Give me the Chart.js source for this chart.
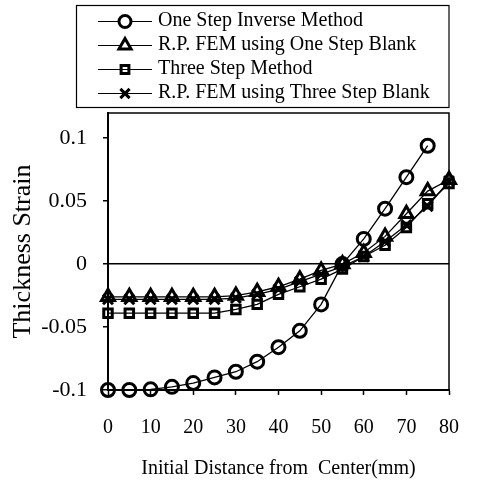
<!DOCTYPE html>
<html>
<head>
<meta charset="utf-8">
<script src="https://cdn.jsdelivr.net/npm/chart.js@4"></script>
<style>
  html, body { margin: 0; padding: 0; background: #fff; }
  #wrap { width: 480px; height: 481px; }
</style>
</head>
<body>
<div id="wrap"><canvas id="strainChart"></canvas></div>
<script>
// values
const distance = [0, 5, 10, 15, 20, 25, 30, 35, 40, 45, 50, 55, 60, 65, 70, 75, 80];
const oneStepInverse = [-0.1, -0.1, -0.0995, -0.0975, -0.0945, -0.09, -0.0855, -0.0775, -0.066, -0.053, -0.032, 0.0, 0.02, 0.044, 0.069, 0.094];
const rpFemOneStep = [-0.026, -0.026, -0.026, -0.026, -0.026, -0.026, -0.025, -0.022, -0.018, -0.012, -0.005, 0.0, 0.009, 0.022, 0.04, 0.058, 0.067];
const threeStep = [-0.039, -0.039, -0.039, -0.039, -0.039, -0.039, -0.036, -0.032, -0.024, -0.018, -0.012, -0.004, 0.006, 0.015, 0.029, 0.048, 0.064];
const rpFemThreeStep = [-0.028, -0.028, -0.028, -0.028, -0.028, -0.028, -0.027, -0.024, -0.02, -0.014, -0.008, -0.002, 0.006, 0.018, 0.031, 0.046, 0.066];

const seriesNames = [
  "One Step Inverse Method",
  "R.P. FEM using One Step Blank",
  "Three Step Method",
  "R.P. FEM using Three Step Blank"
];
const xTickValues = [0, 10, 20, 30, 40, 50, 60, 70, 80];
const yTickValues = [-0.1, -0.05, 0, 0.05, 0.1];

const serif = "'Liberation Serif', 'Times New Roman', serif";
const styles = ["circle", "triangle", "rect", "crossRot"];
const radii = [6.5, 7.5, 6, 7];

function toPoints(ys) {
  return ys.map((y, i) => ({ x: distance[i], y: y }));
}

const allSeries = [oneStepInverse, rpFemOneStep, threeStep, rpFemThreeStep];

const frames = {
  id: "frames",
  beforeDatasetsDraw(chart) {
    const a = chart.chartArea;
    const ctx = chart.ctx;
    ctx.save();
    ctx.strokeStyle = "#000";
    ctx.lineWidth = 1.5;
    ctx.strokeRect(a.left, a.top, a.right - a.left, a.bottom - a.top);
    ctx.restore();
  },
  afterDraw(chart) {
    const lg = chart.legend;
    if (!lg) return;
    const ctx = chart.ctx;
    ctx.save();
    ctx.strokeStyle = "#000";
    ctx.lineWidth = 1.2;
    ctx.strokeRect(76.5, lg.top - 1.5, chart.chartArea.right - 76.5, 102);
    // line + marker sample in front of each legend text
    lg.legendHitBoxes.forEach((hb, i) => {
      const cy = Math.round(hb.top + hb.height / 2) + 0.5;
      ctx.lineWidth = 1.2;
      ctx.beginPath();
      ctx.moveTo(hb.left - 14, cy);
      ctx.lineTo(hb.left + 40, cy);
      ctx.stroke();
      ctx.lineWidth = 3;
      ctx.fillStyle = styles[i] === "rect" ? "rgba(0,0,0,0)" : "#fff";
      Chart.helpers.drawPoint(ctx, { pointStyle: styles[i], radius: radii[i] - 0.5, borderWidth: 3, rotation: 0 }, hb.left + 13, cy);
    });
    ctx.restore();
  }
};

new Chart(document.getElementById("strainChart"), {
  type: "line",
  data: {
    datasets: allSeries.map((ys, i) => ({
      label: seriesNames[i],
      data: toPoints(ys),
      borderColor: "#000",
      borderWidth: 1.3,
      pointStyle: styles[i],
      pointRadius: radii[i],
      pointBorderWidth: 3,
      pointBorderColor: "#000",
      pointBackgroundColor: "rgba(0,0,0,0)",
      tension: 0,
      clip: false
    }))
  },
  options: {
    responsive: true,
    maintainAspectRatio: false,
    animation: false,
    layout: { padding: { top: 7, right: 22, left: 0, bottom: 0 } },
    plugins: {
      tooltip: { enabled: false },
      legend: {
        position: "top",
        align: "start",
        fullSize: false,
        labels: {
          usePointStyle: true,
          pointStyleWidth: 36,
          boxHeight: 20,
          padding: 4,
          color: "#000",
          font: { family: serif, size: 20 },
          generateLabels(chart) {
            return chart.data.datasets.map((ds, i) => ({
              text: ds.label,
              pointStyle: "line",
              datasetIndex: i,
              hidden: false,
              fillStyle: "rgba(0,0,0,0)",
              strokeStyle: "rgba(0,0,0,0)",
              lineWidth: 0,
              fontColor: "#000"
            }));
          }
        }
      }
    },
    scales: {
      x: {
        type: "linear",
        min: 0,
        max: 80,
        afterBuildTicks: (s) => { s.ticks = xTickValues.map((v) => ({ value: v })); },
        afterFit: (s) => { s.height = 91; },
        ticks: { color: "#000", font: { family: serif, size: 20 }, padding: 21, maxRotation: 0, autoSkip: false },
        grid: { drawOnChartArea: false, tickLength: 5, tickColor: "#000", tickWidth: 1.5 },
        border: { color: "#000", width: 2 },
        title: {
          display: true,
          text: "Initial Distance from  Center(mm)",
          color: "#000",
          font: { family: serif, size: 20 },
          padding: { top: 0, bottom: 0 }
        }
      },
      y: {
        min: -0.1,
        max: 0.12,
        afterBuildTicks: (s) => { s.ticks = yTickValues.map((v) => ({ value: v })); },
        afterFit: (s) => { s.width = 108; },
        ticks: {
          color: "#000",
          font: { family: serif, size: 22 },
          padding: 16,
          callback: (v) => (v === 0 ? "0" : String(+v.toFixed(2)))
        },
        grid: {
          color: (c) => (c.tick && c.tick.value === 0 ? "#000" : "rgba(0,0,0,0)"),
          lineWidth: 1.5,
          tickLength: 5,
          tickColor: "#000",
          tickWidth: 1.5
        },
        border: { color: "#000", width: 2 },
        title: {
          display: true,
          text: "Thickness Strain",
          color: "#000",
          font: { family: serif, size: 26 },
          padding: { top: 8, bottom: 0 }
        }
      }
    }
  },
  plugins: [frames]
});
</script>
</body>
</html>
